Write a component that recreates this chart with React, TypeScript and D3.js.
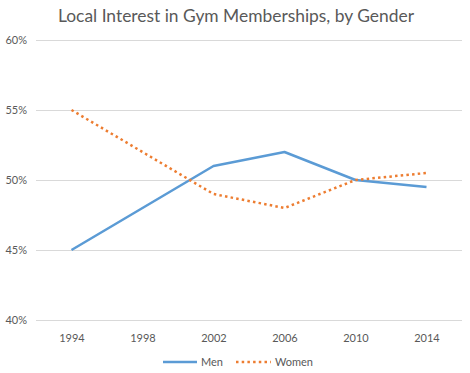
import { useEffect, useRef } from "react";
import * as d3 from "d3";

// ─── Data ─────────────────────────────────────────────────────────────────────

const YEARS = ["1994", "1998", "2002", "2006", "2010", "2014"];
const MEN = [45, 48, 51, 52, 50, 49.5];
const WOMEN = [55, 52, 49, 48, 50, 50.5];
const Y_TICKS = [40, 45, 50, 55, 60];

// ─── Palette ──────────────────────────────────────────────────────────────────

const BLUE = "#5B9BD5";
const ORANGE = "#ED7D31";
const TEXT = "#595959";
const GRID = "#D9D9D9";
const FONT = "Lato, 'Open Sans', sans-serif";

export default function App() {
  const svgRef = useRef<SVGSVGElement>(null);

  useEffect(() => {
    if (!svgRef.current) return;
    const W = 470,
      H = 373;
    const m = { top: 40, right: 8, bottom: 53, left: 36 };
    const iw = W - m.left - m.right;
    const ih = H - m.top - m.bottom;

    const svg = d3.select(svgRef.current);
    svg.selectAll("*").remove();

    svg
      .append("text")
      .attr("x", 236)
      .attr("y", 22)
      .attr("text-anchor", "middle")
      .attr("font-family", FONT)
      .attr("font-size", 17.4)
      .attr("fill", TEXT)
      .text("Local Interest in Gym Memberships, by Gender");

    const g = svg.append("g").attr("transform", `translate(${m.left},${m.top})`);

    const x = d3.scalePoint().domain(YEARS).range([0, iw]).padding(0.5);
    const y = d3.scaleLinear().domain([40, 60]).range([ih, 0]);

    // gridlines + y labels
    g.append("g")
      .call(d3.axisLeft(y).tickValues(Y_TICKS).tickSize(-iw).tickFormat((d) => `${d}%`))
      .call((ax) => {
        ax.select(".domain").remove();
        ax.selectAll(".tick line").attr("stroke", GRID).attr("stroke-width", 1);
        ax.selectAll(".tick text")
          .attr("fill", TEXT)
          .attr("font-size", 11)
          .attr("font-family", FONT)
          .attr("x", -9);
      });

    // x labels
    g.append("g")
      .attr("transform", `translate(0,${ih})`)
      .call(d3.axisBottom(x).tickSize(0))
      .call((ax) => {
        ax.select(".domain").remove();
        ax.selectAll(".tick text")
          .attr("fill", TEXT)
          .attr("font-size", 11)
          .attr("font-family", FONT)
          .attr("dy", "1.7em");
      });

    const line = d3
      .line<number>()
      .x((_, i) => x(YEARS[i])!)
      .y((d) => y(d));

    g.append("path")
      .datum(MEN)
      .attr("d", line)
      .attr("fill", "none")
      .attr("stroke", BLUE)
      .attr("stroke-width", 2.5)
      .attr("stroke-linejoin", "round");

    g.append("path")
      .datum(WOMEN)
      .attr("d", line)
      .attr("fill", "none")
      .attr("stroke", ORANGE)
      .attr("stroke-width", 2.5)
      .attr("stroke-dasharray", "2.5 3.2");

    // legend
    const lg = svg.append("g").attr("transform", `translate(0,362)`);
    lg.append("line")
      .attr("x1", 163)
      .attr("x2", 197)
      .attr("stroke", BLUE)
      .attr("stroke-width", 2.5);
    lg.append("text")
      .attr("x", 201)
      .attr("y", 4)
      .attr("font-family", FONT)
      .attr("font-size", 11)
      .attr("fill", TEXT)
      .text("Men");
    lg.append("line")
      .attr("x1", 236)
      .attr("x2", 271)
      .attr("stroke", ORANGE)
      .attr("stroke-width", 2.5)
      .attr("stroke-dasharray", "2.5 3.2");
    lg.append("text")
      .attr("x", 275)
      .attr("y", 4)
      .attr("font-family", FONT)
      .attr("font-size", 11)
      .attr("fill", TEXT)
      .text("Women");
  }, []);

  return (
    <svg
      ref={svgRef}
      width={470}
      height={373}
      style={{ display: "block", position: "absolute", left: 0, top: 0, background: "#fff" }}
    />
  );
}
